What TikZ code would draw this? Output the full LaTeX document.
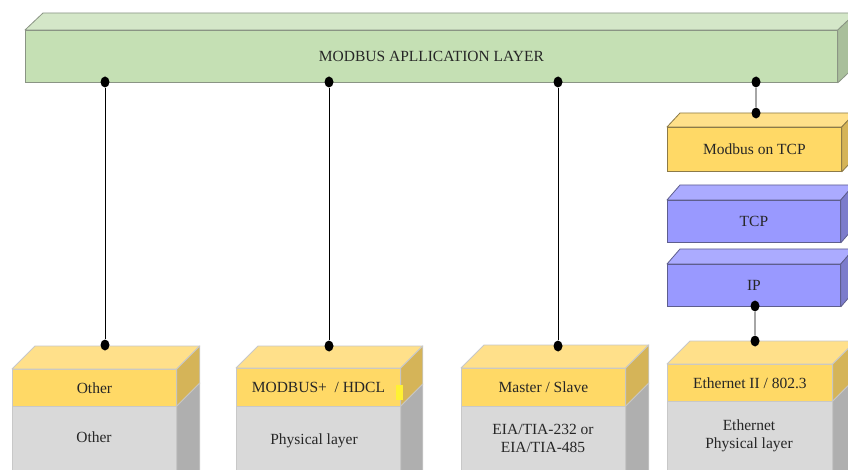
\documentclass[tikz,border=0pt]{standalone}
\usepackage{fontspec}
\setmainfont{Liberation Serif}
\usetikzlibrary{calc,shapes.geometric}

\definecolor{greenF}{HTML}{C5E0B4}
\definecolor{greenT}{HTML}{D4E7C8}
\definecolor{greenS}{HTML}{A9BF9B}
\definecolor{greenL}{HTML}{8A9484}
\definecolor{yelF}{HTML}{FFD966}
\definecolor{yelT}{HTML}{FFE08A}
\definecolor{yelS}{HTML}{D5B458}
\definecolor{yelL}{HTML}{8C7A48}
\definecolor{greyF}{HTML}{D9D9D9}
\definecolor{greyS}{HTML}{AFAFAF}
\definecolor{softL}{HTML}{C8C8C8}
\definecolor{bluF}{HTML}{9999FF}
\definecolor{bluT}{HTML}{ABABFF}
\definecolor{bluS}{HTML}{7C7CCC}
\definecolor{bluL}{HTML}{5E5E8E}
\definecolor{linkgrey}{HTML}{A6A6A6}
\definecolor{textc}{HTML}{262626}
\definecolor{hilite}{HTML}{FFF133}

% top face and right face of a box whose front face is node #1
% #2 top fill, #3 side fill, #4 outline colour, #5 depth offset
\newcommand\boxfaces[5]{%
  \filldraw[face,draw=#4,fill=#2] (#1.north west) -- ++(#5) -- ($(#1.north east)+(#5)$) -- (#1.north east) -- cycle;
  \filldraw[face,draw=#4,fill=#3] (#1.north east) -- ++(#5) -- ($(#1.south east)+(#5)$) -- (#1.south east) -- cycle;
}
% side face only
\newcommand\sideface[4]{%
  \filldraw[face,draw=#3,fill=#2] (#1.north east) -- ++(#4) -- ($(#1.south east)+(#4)$) -- (#1.south east) -- cycle;
}

\tikzset{
  face/.style={line width=0.8pt, line join=round},
  frontbox/.style={rectangle, inner sep=0pt, anchor=north west, line width=0.8pt,
    font=\fontsize{15.5}{18}\selectfont, text=textc, align=center},
  lbl/.style={font=\fontsize{15.5}{18}\selectfont, text=textc, align=center, inner sep=0pt},
  dot/.style={ellipse, fill=black, inner sep=0pt, minimum width=9pt, minimum height=11pt},
  longlink/.style={line width=0.6pt, black},
  shortlink/.style={line width=1.4pt, linkgrey},
}

\begin{document}
\begin{tikzpicture}[x=1pt,y=-1pt]
\useasboundingbox (0,0) rectangle (848,470);
\clip (0,0) rectangle (848,470);
\fill[white] (0,0) rectangle (848,470);

% application layer bar
\node[frontbox, draw=greenL, fill=greenF, minimum width=812pt, minimum height=52pt]
  (app) at (25,30) {MODBUS APLLICATION LAYER};
\boxfaces{app}{greenT}{greenS}{greenL}{18,-17}

% right column
\node[frontbox, draw=yelL, fill=yelF, minimum width=174pt, minimum height=44pt]
  (mtcp) at (667,127) {Modbus on TCP};
\boxfaces{mtcp}{yelT}{yelS}{yelL}{13,-14}

\node[frontbox, draw=bluL, fill=bluF, minimum width=173pt, minimum height=42pt]
  (tcp) at (667,200) {TCP};
\boxfaces{tcp}{bluT}{bluS}{bluL}{13,-15}

\node[frontbox, draw=bluL, fill=bluF, minimum width=173pt, minimum height=42pt]
  (ip) at (667,264) {IP};
\boxfaces{ip}{bluT}{bluS}{bluL}{13,-15}

% bottom stacks: data link layer over physical layer
\node[frontbox, draw=softL, fill=yelF, minimum width=164pt, minimum height=37pt]
  (oth) at (12,369) {Other};
\node[frontbox, draw=softL, fill=greyF, minimum width=164pt, minimum height=90pt]
  (othp) at (12,406) {};
\boxfaces{oth}{yelT}{yelS}{softL}{23,-23}
\sideface{othp}{greyS}{softL}{23,-23}

\node[frontbox, draw=softL, fill=yelF, minimum width=164pt, minimum height=38pt]
  (mbp) at (236,368) {MODBUS+ \ / HDCL};
\node[frontbox, draw=softL, fill=greyF, minimum width=164pt, minimum height=90pt]
  (mbpp) at (236,406) {};
\boxfaces{mbp}{yelT}{yelS}{softL}{22,-22}
\sideface{mbpp}{greyS}{softL}{22,-22}
\fill[hilite] (396,385) rectangle (403,400);

\node[frontbox, draw=softL, fill=yelF, minimum width=164pt, minimum height=38pt]
  (ms) at (461,368) {Master / Slave};
\node[frontbox, draw=softL, fill=greyF, minimum width=164pt, minimum height=90pt]
  (msp) at (461,406) {};
\boxfaces{ms}{yelT}{yelS}{softL}{23,-23}
\sideface{msp}{greyS}{softL}{23,-23}

\node[frontbox, draw=softL, fill=yelF, minimum width=165pt, minimum height=37pt]
  (eth) at (667,364) {Ethernet II / 802.3};
\node[frontbox, draw=softL, fill=greyF, minimum width=165pt, minimum height=90pt]
  (ethp) at (667,401) {};
\boxfaces{eth}{yelT}{yelS}{softL}{23,-23}
\sideface{ethp}{greyS}{softL}{23,-23}

% physical layer labels
\node[lbl] (othl) at (94,437) {Other};
\node[lbl] (mbpl) at (314,441) {Physical layer};
\node[lbl] (msl) at (543,438) {EIA/TIA-232 or\\EIA/TIA-485};
\node[lbl] (ethl) at (749,435.5) {Ethernet\\Physical layer};

% connection points
\node[dot] (a1) at (105,82) {};
\node[dot] (a2) at (329,82) {};
\node[dot] (a3) at (558,82) {};
\node[dot] (a4) at (756,82) {};
\node[dot] (b1) at (105,345) {};
\node[dot] (b2) at (329,346) {};
\node[dot] (b3) at (558,346) {};
\node[dot] (b4) at (756,113) {};
\node[dot] (c1) at (755,306) {};
\node[dot] (c2) at (755,341) {};

% connectors
\draw[longlink] (a1) -- (b1);
\draw[longlink] (a2) -- (b2);
\draw[longlink] (a3) -- (b3);
\draw[shortlink] (a4) -- (b4);
\draw[shortlink] (c1) -- (c2);
\end{tikzpicture}
\end{document}
